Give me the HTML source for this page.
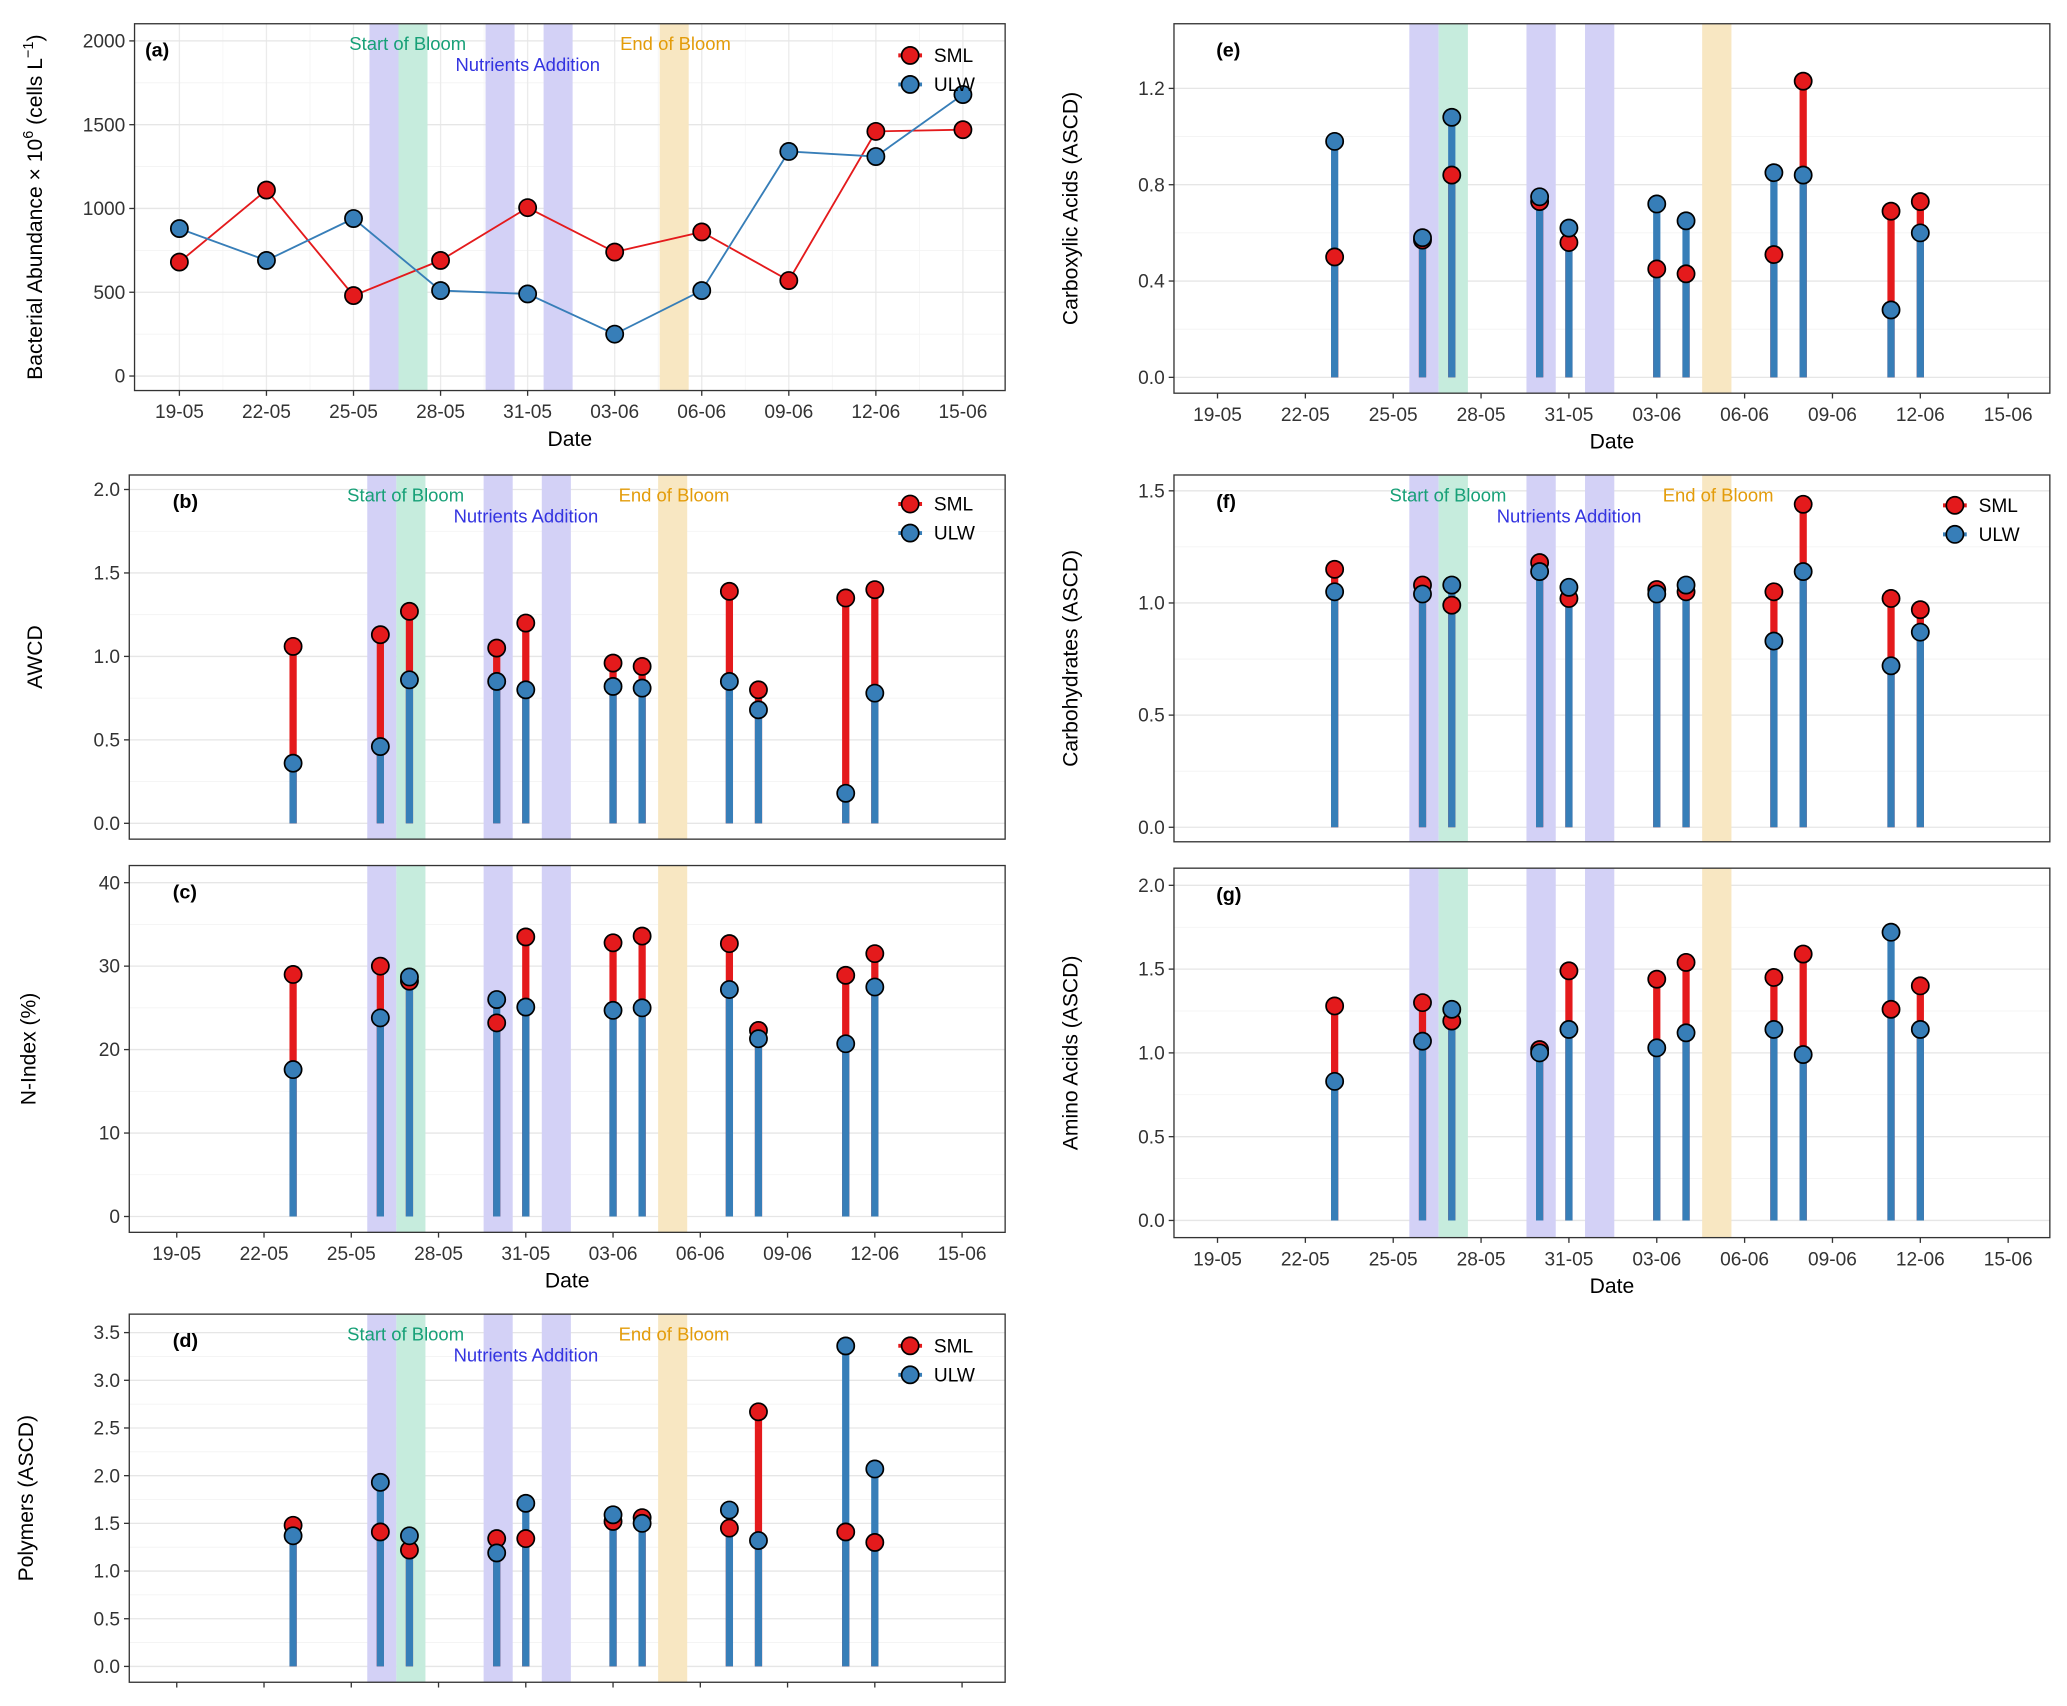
<!DOCTYPE html>
<html><head><meta charset="utf-8"><style>
html,body{margin:0;padding:0;background:#fff;}
svg{display:block;font-family:"Liberation Sans",Arial,sans-serif;}
</style></head><body>
<svg id="chart" width="2067" height="1706" viewBox="0 0 1567 1293" preserveAspectRatio="none" xmlns="http://www.w3.org/2000/svg"></svg>
<script>
// ---- data ----
const lineDays = [0,3,6,9,12,15,18,21,24,27];
const abundSML = [680,1110,480,690,1005,740,860,570,1460,1470];
const abundULW = [880,690,940,510,490,250,510,1340,1310,1680];
const lolDays = [4,7,8,11,12,15,16,19,20,23,24];
const awcdSML = [1.06,1.13,1.27,1.05,1.20,0.96,0.94,1.39,0.80,1.35,1.40];
const awcdULW = [0.36,0.46,0.86,0.85,0.80,0.82,0.81,0.85,0.68,0.18,0.78];
const nidxSML = [29,30,28.2,23.2,33.5,32.8,33.6,32.7,22.3,28.9,31.5];
const nidxULW = [17.6,23.8,28.7,26,25.1,24.7,25,27.2,21.3,20.7,27.5];
const polySML = [1.48,1.41,1.22,1.34,1.34,1.52,1.56,1.45,2.67,1.41,1.30];
const polyULW = [1.37,1.93,1.37,1.19,1.71,1.59,1.50,1.64,1.32,3.36,2.07];
const carbSML = [0.50,0.57,0.84,0.73,0.56,0.45,0.43,0.51,1.23,0.69,0.73];
const carbULW = [0.98,0.58,1.08,0.75,0.62,0.72,0.65,0.85,0.84,0.28,0.60];
const choSML = [1.15,1.08,0.99,1.18,1.02,1.06,1.05,1.05,1.44,1.02,0.97];
const choULW = [1.05,1.04,1.08,1.14,1.07,1.04,1.08,0.83,1.14,0.72,0.87];
const aminoSML = [1.28,1.30,1.19,1.02,1.49,1.44,1.54,1.45,1.59,1.26,1.40];
const aminoULW = [0.83,1.07,1.26,1.00,1.14,1.03,1.12,1.14,0.99,1.72,1.14];
const xTickDays = [0,3,6,9,12,15,18,21,24,27];
const xTickLabels = ["19-05","22-05","25-05","28-05","31-05","03-06","06-06","09-06","12-06","15-06"];
const bandDays = [7.05,8.05,11.05,13.05,17.05];
const bandKinds = ["nut","bloom","nut","nut","end"];

const NS="http://www.w3.org/2000/svg";
const svg=document.getElementById('chart');
function mk(tag,attrs,parent){const e=document.createElementNS(NS,tag);for(const k in attrs)e.setAttribute(k,attrs[k]);(parent||svg).appendChild(e);return e;}
const RED="#e41a1c", BLUE="#377eb8";
const bandCol={nut:"#d3d1f6",bloom:"#c6ecdd",end:"#f8e7c2"};

function panel(o){
  const g=mk('g',{});
  
  
  const L=o.x0,R=o.x1,T=o.y0,B=o.y1;
  const xs=d=>o.d0x+d*o.dpx;
  const ys=v=>o.yz+(o.yt-o.yz)*(v/o.ymaxTick);
  mk('rect',{x:L,y:T,width:R-L,height:B-T,fill:'#fff'},g);
  const step=o.ymaxTick/o.nT;
  for(let i=0;i<o.nT;i++){const y=ys(step*(i+0.5));mk('line',{x1:L,x2:R,y1:y,y2:y,stroke:'#f2f2f2','stroke-width':0.6},g);}
  if(o.vgrid){for(let i=0;i<xTickDays.length;i++){const x=xs(xTickDays[i]);mk('line',{x1:x,x2:x,y1:T,y2:B,stroke:'#ebebeb','stroke-width':1},g);if(i<xTickDays.length-1){const xm=xs(xTickDays[i]+1.5);mk('line',{x1:xm,x2:xm,y1:T,y2:B,stroke:'#f4f4f4','stroke-width':0.6},g);}}}
  for(let i=0;i<=o.nT;i++){const v=step*i,y=ys(v);mk('line',{x1:L,x2:R,y1:y,y2:y,stroke:'#e6e6e6','stroke-width':1},g);
    mk('line',{x1:L-4,x2:L,y1:y,y2:y,stroke:'#333','stroke-width':1},g);
    const t=mk('text',{x:L-7,y:y+5,'text-anchor':'end','font-size':14.5,fill:'#333'},g);t.textContent=o.fmt(v);
    }
  bandDays.forEach((d,i)=>{const r=mk('rect',{x:xs(d-0.5),y:T,width:o.dpx,height:B-T,fill:bandCol[bandKinds[i]]},g);
    });
  if(o.ann){const a=[["Start of Bloom","#17a077",xs(8.05)-4,T+20],["Nutrients Addition","#3333e0",xs(12.05)-1,T+36],["End of Bloom","#e39c0a",xs(17.05)+1,T+20]];
    a.forEach(z=>{const t=mk('text',{x:z[2],y:z[3],'text-anchor':'middle','font-size':14,fill:z[1]},g);t.textContent=z[0];
      });}
  if(o.xticks){xTickDays.forEach((d,i)=>{const x=xs(d);mk('line',{x1:x,x2:x,y1:B,y2:B+4,stroke:'#333','stroke-width':1},g);
    if(o.xlabels){const t=mk('text',{x:x,y:B+21,'text-anchor':'middle','font-size':14.5,fill:'#333'},g);t.textContent=xTickLabels[i];
      }});
    if(o.xlabels){const t=mk('text',{x:(L+R)/2,y:B+42,'text-anchor':'middle','font-size':16,fill:'#000'},g);t.textContent='Date';
      }}
  if(o.type==='line'){
    [[o.sml,RED,'sml'],[o.ulw,BLUE,'ulw']].forEach(s=>{const p=o.days.map((d,i)=>xs(d)+','+ys(s[0][i])).join(' ');
      const pl=mk('polyline',{points:p,fill:'none',stroke:s[1],'stroke-width':1.4},g);});
    [[o.sml,RED,'sml'],[o.ulw,BLUE,'ulw']].forEach(s=>{o.days.forEach((d,i)=>{const c=mk('circle',{cx:xs(d),cy:ys(s[0][i]),r:6.5,fill:s[1],stroke:'#000','stroke-width':1.3},g);
      });});
  } else {
    o.days.forEach((d,i)=>{const x=xs(d);
      const r1=mk('line',{x1:x,x2:x,y1:ys(0),y2:ys(o.sml[i]),stroke:RED,'stroke-width':5.5},g);
      const b1=mk('line',{x1:x,x2:x,y1:ys(0),y2:ys(o.ulw[i]),stroke:BLUE,'stroke-width':5.5},g);});
    o.days.forEach((d,i)=>{const c=mk('circle',{cx:xs(d),cy:ys(o.sml[i]),r:6.5,fill:RED,stroke:'#000','stroke-width':1.3},g);});
    o.days.forEach((d,i)=>{const c=mk('circle',{cx:xs(d),cy:ys(o.ulw[i]),r:6.5,fill:BLUE,stroke:'#000','stroke-width':1.3},g);});
  }
  mk('rect',{x:L,y:T,width:R-L,height:B-T,fill:'none',stroke:'#333','stroke-width':1},g);
  const tg=mk('text',{x:L+o.tagdx,y:T+25,'font-size':15,'font-weight':'bold',fill:'#000'},g);tg.textContent='('+o.tag+')';
  
  if(o.legend){const lx=o.legend[0],ly=o.legend[1];
    [["SML",RED,0],["ULW",BLUE,22]].forEach(z=>{const lg=mk('g',{},g);
      mk('line',{x1:lx-9,x2:lx+9,y1:ly+z[2],y2:ly+z[2],stroke:z[1],'stroke-width':3},lg);
      mk('circle',{cx:lx,cy:ly+z[2],r:6.5,fill:z[1],stroke:'#000','stroke-width':1.3},lg);
      const t=mk('text',{x:lx+18,y:ly+z[2]+5,'font-size':14.5,fill:'#000'},lg);t.textContent=z[0];});}
  const yt=mk('text',{x:0,y:0,'text-anchor':'middle','font-size':16,fill:'#000',transform:`translate(${o.ytx},${(T+B)/2}) rotate(-90)`},g);
  yt.innerHTML=o.ytitle;
}
const LX={d0x:134,dpx:22.05,tagdx:33}, RX={d0x:923,dpx:22.2,tagdx:32};
panel(Object.assign({tag:'a',x0:102,x1:762,y0:18,y1:296,yz:285,yt:31,ymaxTick:2000,nT:4,fmt:v=>v,type:'line',days:lineDays,sml:abundSML,ulw:abundULW,vgrid:true,xticks:true,xlabels:true,ann:true,legend:[690,42],ytx:32,
  ytitle:'Bacterial Abundance × 10<tspan font-size="11" dy="-7">6</tspan><tspan dy="7"> (cells L</tspan><tspan font-size="11" dy="-7">−1</tspan><tspan dy="7">)</tspan>'},{d0x:136,dpx:22,tagdx:8}));
panel(Object.assign({tag:'b',x0:98,x1:762,y0:360,y1:636,yz:624,yt:371,ymaxTick:2,nT:4,fmt:v=>v.toFixed(1),type:'lol',days:lolDays,sml:awcdSML,ulw:awcdULW,ann:true,legend:[690,382],ytx:32,ytitle:'AWCD'},LX));
panel(Object.assign({tag:'c',x0:98,x1:762,y0:656,y1:934,yz:922,yt:669,ymaxTick:40,nT:4,fmt:v=>v,type:'lol',days:lolDays,sml:nidxSML,ulw:nidxULW,xticks:true,xlabels:true,ytx:27,ytitle:'N-Index (%)'},LX));
panel(Object.assign({tag:'d',x0:98,x1:762,y0:996,y1:1275,yz:1263,yt:1010,ymaxTick:3.5,nT:7,fmt:v=>v.toFixed(1),type:'lol',days:lolDays,sml:polySML,ulw:polyULW,xticks:true,ann:true,legend:[690,1020],ytx:25,ytitle:'Polymers (ASCD)'},LX));
panel(Object.assign({tag:'e',x0:890,x1:1554,y0:18,y1:298,yz:286,yt:67,ymaxTick:1.2,nT:3,fmt:v=>v.toFixed(1),type:'lol',days:lolDays,sml:carbSML,ulw:carbULW,xticks:true,xlabels:true,ytx:817,ytitle:'Carboxylic Acids  (ASCD)'},RX));
panel(Object.assign({tag:'f',x0:890,x1:1554,y0:360,y1:638,yz:627,yt:372,ymaxTick:1.5,nT:3,fmt:v=>v.toFixed(1),type:'lol',days:lolDays,sml:choSML,ulw:choULW,ann:true,legend:[1482,383],ytx:817,ytitle:'Carbohydrates (ASCD)'},RX));
panel(Object.assign({tag:'g',x0:890,x1:1554,y0:658,y1:938,yz:925,yt:671,ymaxTick:2,nT:4,fmt:v=>v.toFixed(1),type:'lol',days:lolDays,sml:aminoSML,ulw:aminoULW,xticks:true,xlabels:true,ytx:817,ytitle:'Amino Acids (ASCD)'},RX));
</script>
</body></html>
